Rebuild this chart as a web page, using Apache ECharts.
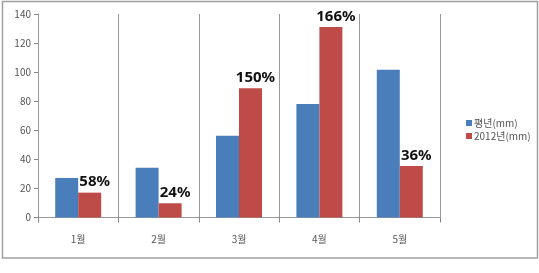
<!DOCTYPE html>
<html><head><meta charset="utf-8">
<script src="https://cdn.jsdelivr.net/npm/echarts@6/dist/echarts.min.js"></script>
<style>html,body{margin:0;padding:0;background:#fff}#c{width:539px;height:273px}</style>
</head><body><div id="c"></div>
<script>
const categories = ['1월','2월','3월','4월','5월'];
const normalValues = [27.2, 34.3, 56.2, 78.1, 101.7];
const y2012Values = [17.1, 9.8, 89, 131, 35.5];
const pctLabels = ['58%','24%','150%','166%','36%'];
const seriesNames = ['평년(mm)','2012년(mm)'];
const yTicks = {min:0, max:140, interval:20};

const chart = echarts.init(document.getElementById('c'));
const font = '"Noto Sans CJK KR", "Noto Sans", sans-serif';
chart.setOption({
  animation:false,
  textStyle:{fontFamily:font},
  graphic:[{type:'rect', shape:{x:2.5,y:1.5,width:535,height:256.5}, style:{fill:'none', stroke:'#a0a0a0', lineWidth:1.5}, z:-1}],
  legend:{orient:'vertical', left:461, top:113, itemWidth:6, itemHeight:6, itemGap:3,
    icon:'rect', textStyle:{fontSize:10, color:'#555', fontFamily:font, padding:[0,0,0,-3]},
    data:seriesNames},
  grid:{left:38, right:99, top:14, bottom:55.5, containLabel:false},
  xAxis:{type:'category', data:categories,
    axisLine:{lineStyle:{color:'#999'}},
    axisTick:{show:true, length:5, lineStyle:{color:'#888'}},
    axisLabel:{fontSize:10, color:'#555', margin:17, fontFamily:font},
    splitLine:{show:true, lineStyle:{color:'#999', width:1}}},
  yAxis:{type:'value', min:yTicks.min, max:yTicks.max, interval:yTicks.interval,
    axisLine:{show:true, lineStyle:{color:'#999'}},
    axisTick:{show:true, length:4, lineStyle:{color:'#888'}},
    axisLabel:{fontSize:10, color:'#555', margin:7, fontFamily:font},
    splitLine:{show:false}},
  series:[
    {name:seriesNames[0], type:'bar', data:normalValues, barWidth:23, barGap:'0%',
     itemStyle:{color:'#4a7ebb'}},
    {name:seriesNames[1], type:'bar', data:y2012Values, barWidth:23,
     itemStyle:{color:'#be4b48'},
     label:{show:true, position:'top', distance:3, offset:[5,0],
       formatter:p=>pctLabels[p.dataIndex], fontSize:15, fontWeight:'bold', color:'#111', fontFamily:'"Noto Sans", sans-serif'}}
  ]
});
</script></body></html>
